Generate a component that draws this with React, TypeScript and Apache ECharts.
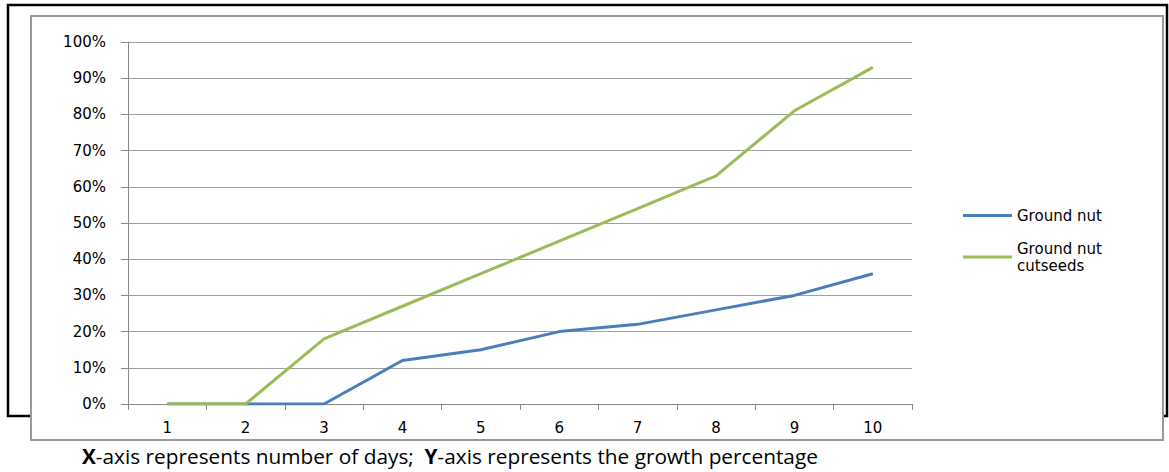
import React, { useEffect, useRef } from "react";
import * as echarts from "echarts";

const days = ["1", "2", "3", "4", "5", "6", "7", "8", "9", "10"];
const groundNut = [0, 0, 0, 12, 15, 20, 22, 26, 30, 36];
const groundNutCutseeds = [0, 0, 18, 27, 36, 45, 54, 63, 81, 93];
const seriesNames = ["Ground nut", "Ground nut\ncutseeds"];

export default function App() {
  const ref = useRef<HTMLDivElement>(null);
  useEffect(() => {
    document.body.style.margin = "0";
    const chart = echarts.init(ref.current!, null, { renderer: "svg" });
    const font = "DejaVu Sans";
    chart.setOption({
      animation: false,
      backgroundColor: "#ffffff",
      graphic: [
        {
          type: "rect",
          z: -10,
          shape: { x: 8, y: 5, width: 1159, height: 411 },
          style: { fill: "#ffffff", stroke: "#000000", lineWidth: 2.5 },
        },
        {
          type: "rect",
          z: -9,
          shape: { x: 31, y: 16, width: 1132, height: 424 },
          style: { fill: "#ffffff", stroke: "#9a9a9a", lineWidth: 2 },
        },
        {
          type: "text",
          z: 5,
          x: 82,
          y: 456,
          style: {
            text: "{b|X}-axis represents number of days;  {b|Y}-axis represents the growth percentage",
            fontFamily: "Open Sans",
            fontSize: 20.8,
            fill: "#000000",
            verticalAlign: "middle",
            rich: {
              b: { fontFamily: "Open Sans", fontSize: 20.8, fontWeight: "bold", fill: "#000000" },
            },
          },
        },
      ],
      grid: { left: 128, right: 257, top: 42, bottom: 68 },
      legend: {
        orient: "vertical",
        left: 963,
        top: 207,
        padding: 0,
        itemGap: 16,
        itemWidth: 49,
        itemHeight: 3,
        icon: "rect",
        textStyle: { fontFamily: font, fontSize: 15, color: "#000", lineHeight: 17, padding: [0, 0, 0, 0] },
        data: seriesNames,
      },
      xAxis: {
        type: "category",
        data: days,
        boundaryGap: true,
        axisLine: { lineStyle: { color: "#888888", width: 1 } },
        axisTick: { show: true, length: 6, lineStyle: { color: "#888888" } },
        axisLabel: { fontFamily: font, fontSize: 15, color: "#000", margin: 16 },
        splitLine: { show: false },
      },
      yAxis: {
        type: "value",
        min: 0,
        max: 100,
        interval: 10,
        axisLine: { show: true, lineStyle: { color: "#888888", width: 1 } },
        axisTick: { show: true, length: 7, lineStyle: { color: "#888888" } },
        axisLabel: { fontFamily: font, fontSize: 15, color: "#000", margin: 22, formatter: "{value}%" },
        splitLine: { show: true, lineStyle: { color: "#a0a0a0", width: 1 } },
      },
      series: [
        {
          name: seriesNames[0],
          type: "line",
          data: groundNut,
          showSymbol: false,
          symbol: "none",
          lineStyle: { color: "#4A7EBB", width: 3 },
          itemStyle: { color: "#4A7EBB" },
        },
        {
          name: seriesNames[1],
          type: "line",
          data: groundNutCutseeds,
          showSymbol: false,
          symbol: "none",
          lineStyle: { color: "#9BBB59", width: 3 },
          itemStyle: { color: "#9BBB59" },
        },
      ],
    });
    return () => chart.dispose();
  }, []);
  return <div ref={ref} style={{ width: 1169, height: 472 }} />;
}
